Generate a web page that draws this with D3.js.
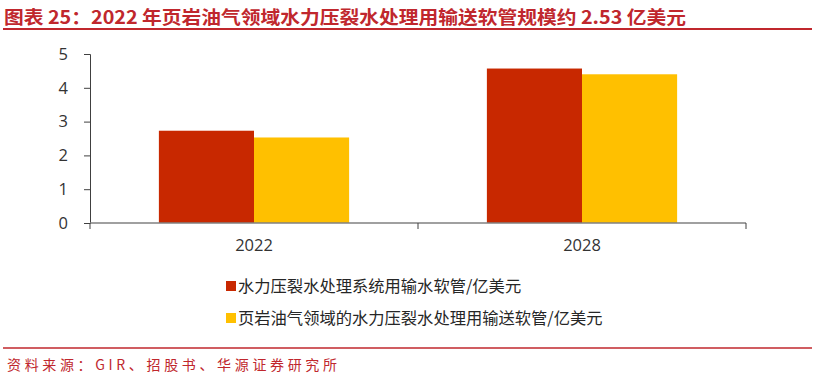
<!DOCTYPE html>
<html>
<head>
<meta charset="utf-8">
<style>
	body{ margin:0; background:#fff; }
	svg{ display:block; font-family:"Microsoft YaHei","Noto Sans CJK SC",sans-serif; }
	.axis text{ fill:#333; font-size:16.5px; font-family:"Open Sans","Noto Sans CJK SC",sans-serif; }
	.legendText{ fill:#262626; font-size:16.3px; }
</style>
<script src="https://d3js.org/d3.v7.min.js"></script>
</head>
<body>
<div id="chart"></div>
<script>
	var years = ['2022', '2028'];
	var seriesNames = ['水力压裂水处理系统用输水软管/亿美元', '页岩油气领域的水力压裂水处理用输送软管/亿美元'];
	var seriesA = [2.73, 4.57];
	var seriesB = [2.53, 4.40];
	var yTicks = [0, 1, 2, 3, 4, 5];
	var colors = ['#C82800', '#FFC000'];

	var width = 815, height = 381;
	var mLeft = 90, mRight = 746, mTop = 54, mBottom = 223;

	var svg = d3.select('#chart').append('svg')
		.attr('width', width)
		.attr('height', height);

	// title + red rule
	svg.append('text')
		.attr('x', 4).attr('y', 24)
		.attr('fill', '#C0272D')
		.attr('font-size', '18px')
		.attr('font-weight', 'bold')
		.attr('textLength', 682)
		.attr('lengthAdjust', 'spacingAndGlyphs')
		.text('图表 25：2022 年页岩油气领域水力压裂水处理用输送软管规模约 2.53 亿美元');
	svg.append('line').attr('x1', 3).attr('x2', 812).attr('y1', 29).attr('y2', 29)
		.attr('stroke', '#C0272D').attr('stroke-width', 2);

	var x0 = d3.scaleBand().domain(years).range([mLeft, mRight]).paddingInner(0.42).paddingOuter(0.21);
	var x1 = d3.scaleBand().domain([0, 1]).range([0, x0.bandwidth()]);
	var y = d3.scaleLinear().domain([0, 5]).range([mBottom, mTop]);

	var data = years.map(function(d, i){ return {year: d, vals: [seriesA[i], seriesB[i]]}; });

	var g = svg.selectAll('.grp').data(data).enter().append('g')
		.attr('transform', function(d){ return 'translate(' + x0(d.year) + ',0)'; });
	g.selectAll('rect')
		.data(function(d){ return d.vals.map(function(v, k){ return {k: k, v: v}; }); })
		.enter().append('rect')
		.attr('x', function(d){ return x1(d.k); })
		.attr('width', x1.bandwidth())
		.attr('y', function(d){ return y(d.v); })
		.attr('height', function(d){ return mBottom - y(d.v); })
		.attr('fill', function(d){ return colors[d.k]; });

	// y axis
	var yAxisG = svg.append('g').attr('class', 'axis')
		.attr('transform', 'translate(' + mLeft + ',0)')
		.call(d3.axisLeft(y).tickValues(yTicks).tickSize(6).tickPadding(16).tickFormat(d3.format('d')));
	yAxisG.selectAll('path, line').attr('stroke', '#404040');
	yAxisG.selectAll('text').attr('font-size', '17.5px');

	// x axis with ticks between categories
	var xAxisG = svg.append('g').attr('class', 'axis')
		.attr('transform', 'translate(0,' + mBottom + ')');
	xAxisG.append('line').attr('x1', mLeft).attr('x2', mRight).attr('stroke', '#808080').attr('stroke-width', 1.5);
	var edges = [mLeft, (x0(years[0]) + x0.bandwidth() + x0(years[1])) / 2, mRight];
	xAxisG.selectAll('.tk').data(edges).enter().append('line')
		.attr('x1', function(d){ return d; }).attr('x2', function(d){ return d; })
		.attr('y1', 0).attr('y2', 6).attr('stroke', '#404040');
	xAxisG.selectAll('.lbl').data(years).enter().append('text')
		.attr('x', function(d){ return x0(d) + x0.bandwidth() / 2; })
		.attr('y', 28)
		.attr('text-anchor', 'middle')
		.text(function(d){ return d; });

	// legend
	var lg = svg.selectAll('.leg').data(seriesNames).enter().append('g')
		.attr('transform', function(d, i){ return 'translate(226,' + (286 + i * 32) + ')'; });
	lg.append('rect').attr('x', 0).attr('y', -5).attr('width', 10).attr('height', 10)
		.attr('fill', function(d, i){ return colors[i]; });
	lg.append('text').attr('class', 'legendText').attr('x', 12).attr('y', 6)
		.text(function(d){ return d; });

	// footer
	svg.append('line').attr('x1', 3).attr('x2', 812).attr('y1', 348).attr('y2', 348)
		.attr('stroke', '#C0272D').attr('stroke-width', 1.5);
	svg.append('text')
		.attr('x', 7).attr('y', 370)
		.attr('fill', '#C0272D')
		.attr('font-size', '14px')
		.attr('textLength', 330)
		.attr('lengthAdjust', 'spacing')
		.text('资料来源：GIR、招股书、华源证券研究所');
</script>
</body>
</html>
